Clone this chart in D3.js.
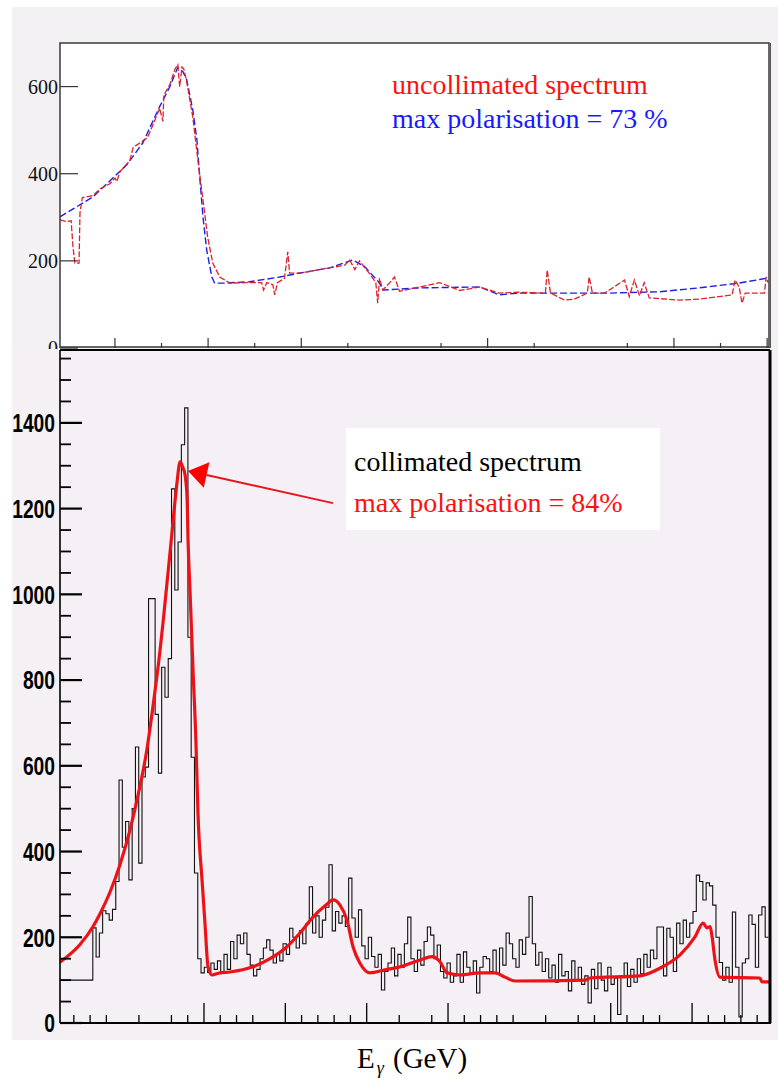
<!DOCTYPE html>
<html>
<head>
<meta charset="utf-8">
<script src="https://cdn.jsdelivr.net/npm/d3@7"></script>
<style>
  body { margin: 0; background: #ffffff; }
  svg { display: block; }
</style>
</head>
<body>
<svg id="chart" width="778" height="1079"></svg>
<script>
// ---------- Upper pad: uncollimated spectrum (x in tick units) ----------
const upperFit = [
  [-1.18,301],[-0.47,347],[0.26,421],[0.60,471],[0.96,554],[1.18,600],[1.35,644],[1.46,634],
  [1.54,616],[1.67,547],[1.76,478],[1.82,393],[1.89,301],[1.97,225],[2.08,163],[2.14,149],
  [2.36,149],[2.89,152],[3.54,163],[3.97,172],[4.61,184],[5.10,202],[5.36,187],[5.68,149],
  [5.75,133],[6.54,138],[7.83,140],[8.25,122],[8.68,126],[10.61,126],[11.69,129],[12.54,138],
  [13.40,149],[14.04,161]
];
const upperData = [
  [-1.18,294],[-1.03,290],[-0.94,292],[-0.90,232],[-0.86,195],[-0.77,195],[-0.75,310],[-0.70,345],
  [-0.47,350],[-0.32,365],[-0.11,377],[0.00,390],[0.04,382],[0.11,405],[0.32,430],[0.39,460],
  [0.69,482],[0.75,495],[0.96,550],[1.03,520],[1.05,580],[1.18,605],[1.29,640],[1.35,650],
  [1.39,600],[1.44,645],[1.48,640],[1.54,612],[1.67,531],[1.78,432],[1.89,340],[1.99,255],
  [2.10,195],[2.25,163],[2.47,149],[2.89,150],[3.15,150],[3.19,133],[3.26,150],[3.39,145],
  [3.43,122],[3.49,150],[3.64,160],[3.71,221],[3.75,172],[3.97,172],[4.40,180],[4.93,190],
  [5.04,202],[5.15,180],[5.25,200],[5.47,170],[5.60,150],[5.64,103],[5.68,160],[5.75,133],
  [5.90,150],[6.00,163],[6.11,130],[6.54,140],[6.97,150],[7.40,132],[7.83,140],[8.25,126],
  [8.68,128],[9.24,126],[9.28,179],[9.35,126],[9.65,110],[9.86,112],[10.14,126],[10.18,163],
  [10.25,126],[10.51,126],[10.94,156],[11.04,118],[11.15,156],[11.26,120],[11.36,150],[11.47,115],
  [12.11,110],[12.54,112],[13.25,122],[13.31,156],[13.40,140],[13.46,103],[13.53,126],[13.94,126],
  [13.98,163],[14.02,150]
];
const upperYTicks = [0, 200, 400, 600];
const upperXMajor = [0, 2, 4, 8, 12, 14];
const upperXMinor = [1, 3, 5, 7, 9, 11, 13];

// ---------- Lower pad: collimated spectrum ----------
const countsStart = 1.15;
const countsStep = 0.2016;
const counts = [
  100,100,100,100,100,100,100,100,100,100,
  222,154,210,262,255,240,265,330,567,410,
  470,334,500,644,373,574,597,990,990,720,
  583,830,760,850,1246,1010,1122,1349,1435,900,
  620,350,150,117,130,118,140,125,145,120,
  160,125,190,150,205,185,210,160,135,110,
  125,150,175,194,170,140,160,145,185,160,
  221,200,175,215,185,232,318,210,250,200,
  240,270,369,215,260,233,250,225,338,245,
  200,264,180,150,200,155,130,160,77,120,
  140,175,110,160,130,185,247,150,120,170,
  135,190,224,205,150,182,120,105,140,95,
  110,160,95,166,130,117,145,70,130,155,
  150,120,170,115,175,135,210,185,150,130,
  194,160,200,295,185,135,165,120,150,105,
  135,95,160,110,120,75,145,100,130,90,
  110,47,125,80,140,100,75,130,90,105,
  20,110,140,85,125,95,150,115,160,130,
  170,150,224,224,110,221,200,120,233,185,
  240,200,233,260,345,330,287,327,320,275,
  200,141,100,130,95,259,130,14,140,150,
  252,230,130,252,271,200
];
const fitCurve = [
  [1.15,142],[2.38,183],[3.18,225],[3.61,255],[4.22,305],[4.84,370],[5.45,450],[5.88,520],
  [6.50,640],[6.87,740],[7.30,870],[7.48,933],[8.03,1143],[8.34,1260],[8.53,1309],[8.71,1295],
  [8.83,1280],[8.96,1227],[9.02,1127],[9.14,1010],[9.32,830],[9.51,650],[9.63,490],[9.88,334],
  [10.06,233],[10.25,131],[10.49,112],[10.98,117],[11.60,119],[13.01,131],[14.06,150],[15.10,178],
  [15.90,210],[16.70,247],[17.50,275],[17.93,287],[18.36,275],[18.79,240],[19.16,178],[19.58,140],
  [20.20,117],[21.13,124],[22.05,131],[23.28,147],[24.01,155],[24.51,143],[24.94,117],[25.74,112],
  [26.96,117],[27.89,117],[28.50,107],[29.12,98],[33.42,100],[33.73,105],[36.81,110],[38.03,128],
  [39.26,159],[40.18,201],[40.68,233],[40.92,222],[41.11,225],[41.23,201],[41.41,147],[41.72,107],
  [44.17,105],[44.30,96],[44.79,96]
];
const lowerYMajor = [0, 200, 400, 600, 800, 1000, 1200, 1400];
const lowerYMinor = [50,100,150,250,300,350,450,500,550,650,700,750,850,900,950,
                     1050,1100,1150,1250,1300,1350,1450,1500,1550];
const lowerXMajor = [10, 15, 20, 25, 35, 40];
const lowerXMinor = [2,3,4,6,8,9,11,12,13,16,17,18,19,22,24,26,27,28,29,31,33,34,36,37,38,41,42,43,44];
const arrowTip = [9.02, 1288];
const arrowTail = [17.93, 1213];

// ---------- Layout ----------
const svg = d3.select("#chart");
const up = { left: 60, right: 769, top: 43, bottom: 348 };
const lo = { left: 60, right: 770, top: 350, bottom: 1023 };

const xU = d3.scaleLinear().domain([-1.179, 14.04]).range([up.left, up.right]);
const yU = d3.scaleLinear().domain([0, 700]).range([up.bottom, up.top]);
const xL = d3.scaleLinear().domain([1.15, 44.79]).range([lo.left, lo.right]);
const yL = d3.scaleLinear().domain([0, 1570]).range([lo.bottom, lo.top]);

// ---------- Upper canvas ----------
svg.append("rect").attr("x", 12).attr("y", 7).attr("width", 766).attr("height", 345)
  .attr("fill", "#f3f1f3");
svg.append("rect").attr("x", up.left).attr("y", up.top)
  .attr("width", up.right - up.left).attr("height", up.bottom - up.top).attr("fill", "#ffffff");

svg.append("defs").append("clipPath").attr("id", "clipUp").append("rect")
  .attr("x", up.left).attr("y", up.top).attr("width", up.right - up.left).attr("height", up.bottom - up.top);

const gU = svg.append("g");
const lineU = d3.line().x(d => xU(d[0])).y(d => yU(d[1]));
gU.append("path").datum(upperFit).attr("d", lineU).attr("clip-path", "url(#clipUp)")
  .attr("fill", "none").attr("stroke", "#1f1fe6").attr("stroke-width", 1.4)
  .attr("stroke-dasharray", "7,3");
gU.append("path").datum(upperData).attr("d", lineU).attr("clip-path", "url(#clipUp)")
  .attr("fill", "none").attr("stroke", "#e0202a").attr("stroke-width", 1.3)
  .attr("stroke-dasharray", "6,2");

// upper ticks
upperYTicks.forEach(v => {
  gU.append("line").attr("x1", up.left).attr("x2", up.left + 18)
    .attr("y1", yU(v)).attr("y2", yU(v)).attr("stroke", "#333").attr("stroke-width", 1.2);
  gU.append("text").attr("x", 58).attr("y", yU(v)).attr("dy", "0.36em")
    .attr("text-anchor", "end").attr("font-family", "Liberation Serif, serif")
    .attr("font-size", 20).attr("fill", "#111").text(v);
});
upperXMajor.forEach(t => {
  gU.append("line").attr("x1", xU(t)).attr("x2", xU(t)).attr("y1", up.bottom).attr("y2", up.bottom - 10)
    .attr("stroke", "#333").attr("stroke-width", 1.2);
});
upperXMinor.forEach(t => {
  gU.append("line").attr("x1", xU(t)).attr("x2", xU(t)).attr("y1", up.bottom).attr("y2", up.bottom - 5)
    .attr("stroke", "#333").attr("stroke-width", 1.2);
});
// upper frame
gU.append("path")
  .attr("d", `M${up.left},${up.bottom}V${up.top}H${up.right}V${up.bottom}`)
  .attr("fill", "none").attr("stroke", "#3a3a3a").attr("stroke-width", 1.5);
gU.append("line").attr("x1", up.right + 1.5).attr("x2", up.right + 1.5)
  .attr("y1", up.top).attr("y2", up.bottom).attr("stroke", "#555").attr("stroke-width", 1);
gU.append("line").attr("x1", up.left).attr("x2", up.right).attr("y1", up.bottom - 1).attr("y2", up.bottom - 1)
  .attr("stroke", "#333").attr("stroke-width", 1.3);

// upper legend
gU.append("text").attr("x", 392).attr("y", 94).attr("font-family", "Liberation Serif, serif")
  .attr("font-size", 28).attr("fill", "#ff1010").text("uncollimated spectrum");
gU.append("text").attr("x", 392).attr("y", 128).attr("font-family", "Liberation Serif, serif")
  .attr("font-size", 28).attr("fill", "#1a1aff").text("max polarisation = 73 %");

// ---------- Lower canvas ----------
svg.append("rect").attr("x", 12).attr("y", 349).attr("width", 766).attr("height", 691)
  .attr("fill", "#f4f0f4");
svg.append("rect").attr("x", lo.left).attr("y", lo.top)
  .attr("width", lo.right - lo.left).attr("height", lo.bottom - lo.top).attr("fill", "#f5f0f5");

svg.select("defs").append("clipPath").attr("id", "clipLo").append("rect")
  .attr("x", lo.left).attr("y", lo.top).attr("width", lo.right - lo.left).attr("height", lo.bottom - lo.top);

const gL = svg.append("g");

// measured histogram (step line)
const histPts = counts.map((c, i) => [countsStart + i * countsStep, c]);
histPts.push([countsStart + counts.length * countsStep, counts[counts.length - 1]]);
const stepLine = d3.line().curve(d3.curveStepAfter).x(d => xL(d[0])).y(d => yL(d[1]));
gL.append("path").datum(histPts).attr("d", stepLine).attr("clip-path", "url(#clipLo)")
  .attr("fill", "none").attr("stroke", "#111").attr("stroke-width", 1.1);

// calculated spectrum
const fitLine = d3.line().curve(d3.curveMonotoneX).x(d => xL(d[0])).y(d => yL(d[1]));
gL.append("path").datum(fitCurve).attr("d", fitLine).attr("clip-path", "url(#clipLo)")
  .attr("fill", "none").attr("stroke", "#ec1318").attr("stroke-width", 3.2)
  .attr("stroke-linejoin", "round");

// lower y ticks
lowerYMajor.forEach(v => {
  gL.append("line").attr("x1", lo.left).attr("x2", lo.left + 22)
    .attr("y1", yL(v)).attr("y2", yL(v)).attr("stroke", "#000").attr("stroke-width", 2.2);
  gL.append("text")
    .attr("transform", `translate(55,${yL(v)}) scale(0.74,1)`)
    .attr("dy", "0.36em").attr("text-anchor", "end")
    .attr("font-family", "Liberation Sans, Arial, sans-serif").attr("font-weight", "bold")
    .attr("font-size", 26).attr("fill", "#000").text(v);
});
lowerYMinor.forEach(v => {
  gL.append("line").attr("x1", lo.left).attr("x2", lo.left + 11)
    .attr("y1", yL(v)).attr("y2", yL(v)).attr("stroke", "#000").attr("stroke-width", 1.8);
});
// lower x ticks
lowerXMajor.forEach(u => {
  gL.append("line").attr("x1", xL(u)).attr("x2", xL(u)).attr("y1", lo.bottom).attr("y2", lo.bottom - 20)
    .attr("stroke", "#000").attr("stroke-width", 1.3);
});
lowerXMinor.forEach(u => {
  gL.append("line").attr("x1", xL(u)).attr("x2", xL(u)).attr("y1", lo.bottom).attr("y2", lo.bottom - 8)
    .attr("stroke", "#000").attr("stroke-width", 1.3);
});

// lower frame
gL.append("line").attr("x1", lo.left).attr("x2", lo.right).attr("y1", lo.top).attr("y2", lo.top)
  .attr("stroke", "#000").attr("stroke-width", 2);
gL.append("line").attr("x1", lo.left).attr("x2", lo.left).attr("y1", lo.top).attr("y2", lo.bottom)
  .attr("stroke", "#000").attr("stroke-width", 1.6);
gL.append("line").attr("x1", lo.right).attr("x2", lo.right).attr("y1", lo.top).attr("y2", lo.bottom)
  .attr("stroke", "#000").attr("stroke-width", 3);
gL.append("line").attr("x1", lo.left).attr("x2", lo.right + 1).attr("y1", lo.bottom).attr("y2", lo.bottom)
  .attr("stroke", "#000").attr("stroke-width", 2);

// annotation arrow pointing at the coherent peak
const tip = [xL(arrowTip[0]), yL(arrowTip[1])];
const tail = [xL(arrowTail[0]), yL(arrowTail[1])];
const ang = Math.atan2(tail[1] - tip[1], tail[0] - tip[0]);
const headLen = 19, headHalf = 13;
const base = [tip[0] + headLen * Math.cos(ang), tip[1] + headLen * Math.sin(ang)];
gL.append("line").attr("x1", tail[0]).attr("y1", tail[1]).attr("x2", base[0]).attr("y2", base[1])
  .attr("stroke", "#e8141c").attr("stroke-width", 1.8);
gL.append("polygon")
  .attr("points", [
    tip,
    [base[0] - headHalf * Math.sin(ang), base[1] + headHalf * Math.cos(ang)],
    [base[0] + headHalf * Math.sin(ang), base[1] - headHalf * Math.cos(ang)]
  ].map(p => p.join(",")).join(" "))
  .attr("fill", "#f00");

// lower legend box
gL.append("rect").attr("x", 346).attr("y", 428).attr("width", 314).attr("height", 102).attr("fill", "#ffffff");
gL.append("text").attr("x", 354).attr("y", 471).attr("font-family", "Liberation Serif, serif")
  .attr("font-size", 28).attr("fill", "#000").text("collimated spectrum");
gL.append("text").attr("x", 354).attr("y", 512).attr("font-family", "Liberation Serif, serif")
  .attr("font-size", 28).attr("fill", "#ff1010").text("max polarisation = 84%");

// x-axis title
const title = svg.append("text").attr("x", 357).attr("y", 1068)
  .attr("font-family", "Liberation Serif, serif").attr("font-size", 29).attr("fill", "#000");
title.append("tspan").text("E");
title.append("tspan").attr("font-size", 18).attr("font-style", "italic").attr("dx", 2).attr("dy", 6).text("γ");
title.append("tspan").attr("x", 393).attr("y", 1068).text("(GeV)");
</script>
</body>
</html>
